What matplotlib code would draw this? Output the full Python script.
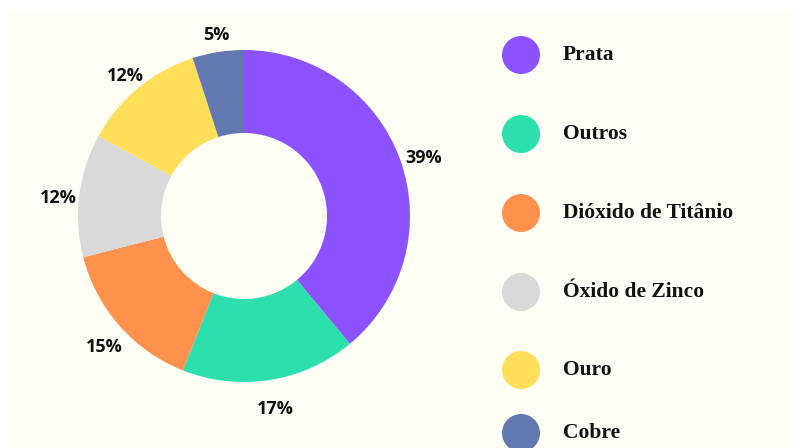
import numpy as np
import matplotlib
matplotlib.use('Agg')
import matplotlib.pyplot as plt
from matplotlib.patches import Circle, Rectangle

labels = ['Prata', 'Outros', 'Dióxido de Titânio', 'Óxido de Zinco', 'Ouro', 'Cobre']
values = [39, 17, 15, 12, 12, 5]
colors = ['#8c52ff', '#2ddfad', '#ff914d', '#d9d9d9', '#ffde59', '#6178b1']

W, H = 793, 448
fig = plt.figure(figsize=(W / 100, H / 100), dpi=100, facecolor='white')
ax = fig.add_axes([0, 0, 1, 1])

# cream panel
ax.add_patch(Rectangle((8, 0), W - 8, H - 10, facecolor='#fdfef4', edgecolor='none', zorder=0))

# donut
cx, cy, R = 244, 232, 166
wedges, _ = ax.pie(values, colors=colors, startangle=90, counterclock=False,
                   radius=R, center=(cx, cy), frame=True,
                   wedgeprops=dict(width=R * 0.5, linewidth=0))
ax.set_xlim(0, W)
ax.set_ylim(0, H)
ax.set_aspect('equal')
ax.axis('off')

for w, v in zip(wedges, values):
    ang = np.deg2rad((w.theta1 + w.theta2) / 2)
    r = R * 1.14
    ax.text(cx + r * np.cos(ang) + 2, cy + r * np.sin(ang) - 6, f'{v}%',
            ha='center', va='center', fontsize=13, fontweight='bold',
            family='Open Sans', color='#111111')

# legend (row positions in pixels from the top)
leg_rows = [55, 134, 213, 292, 370, 433]
for lab, col, yt in zip(labels, colors, leg_rows):
    y = H - yt
    ax.add_patch(Circle((521, y), 19, facecolor=col, edgecolor='none'))
    ax.text(563, y, lab, ha='left', va='center', fontsize=15.5,
            fontweight='bold', family='Liberation Serif', color='#111111')

fig.savefig('out.png', dpi=100, facecolor=fig.get_facecolor())
